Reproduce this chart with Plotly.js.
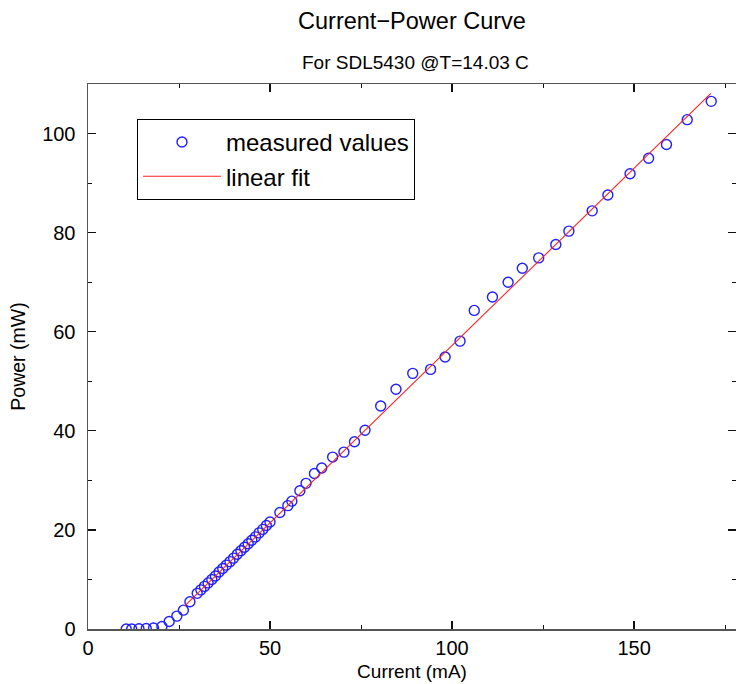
<!DOCTYPE html>
<html>
<head>
<meta charset="utf-8">
<script src="https://cdn.plot.ly/plotly-3.0.1.min.js"></script>
<style>html,body{margin:0;padding:0;background:#fff;}#chart{width:736px;height:684px;}</style>
</head>
<body>
<div id="chart"></div>
<script>
// Measured values (current in mA, power in mW)
const currentMA = [10.5, 12, 14, 16, 18, 20.3, 22.3, 24.4, 26.2, 28,
  30, 31, 32, 33, 34, 35, 36, 37, 38, 39, 40, 41, 42, 43, 44, 45, 46, 47, 48, 49, 50,
  52.7, 54.9, 56.0, 58.2, 59.9, 62.2, 64.2, 67.2, 70.3, 73.2, 76.1, 80.4, 84.6, 89.2,
  94.1, 98.1, 102.2, 106.1, 111.1, 115.4, 119.3, 123.8, 128.5, 132.1, 138.5, 142.8,
  148.9, 154.0, 158.9, 164.6, 171.2];
const powerMW = [0.0, 0.0, 0.05, 0.1, 0.2, 0.5, 1.5, 2.6, 3.8, 5.5,
  7.2, 7.9, 8.6, 9.3, 10.0, 10.7, 11.5, 12.2, 12.9, 13.6, 14.3, 15.1, 15.8, 16.5, 17.2, 17.9, 18.6, 19.4, 20.1, 20.9, 21.6,
  23.5, 24.9, 25.8, 27.9, 29.4, 31.4, 32.5, 34.7, 35.7, 37.8, 40.1, 45.0, 48.4, 51.6,
  52.4, 54.9, 58.1, 64.3, 67.0, 70.0, 72.8, 74.9, 77.6, 80.3, 84.4, 87.6,
  91.9, 95.0, 97.8, 102.8, 106.5];
// Linear fit end points
const fitCurrent = [26.5, 171.1];
const fitPower = [4.6, 108.1];

const FONT = 'Liberation Sans, Arial, Helvetica, sans-serif';

const traces = [
  {x: currentMA, y: powerMW, type: 'scatter', mode: 'markers', name: 'measured values',
   marker: {symbol: 'circle-open', size: 10, color: '#1f1fff', line: {width: 1.4, color: '#1f1fff'}}},
  {x: fitCurrent, y: fitPower, type: 'scatter', mode: 'lines', name: 'linear fit',
   line: {color: '#ff2020', width: 1.1}}
];

const axisCommon = {
  showgrid: false, zeroline: false, showline: true, linecolor: '#555', linewidth: 1.5,
  mirror: 'ticks', ticks: 'inside', ticklen: 8, tickwidth: 1.2, tickcolor: '#111',
  tickfont: {family: FONT, size: 20, color: '#000'},
  minor: {ticks: 'inside', ticklen: 4, tickcolor: '#111', tickwidth: 1, showgrid: false}
};

const layout = {
  width: 736, height: 684,
  margin: {l: 88, r: 0, t: 84, b: 55},
  paper_bgcolor: '#fff', plot_bgcolor: '#fff',
  font: {family: FONT, color: '#000'},
  title: {text: 'Current\u2212Power Curve', font: {family: FONT, size: 23.5, color: '#000'},
          x: 0.5, xref: 'paper', xanchor: 'center', y: 0.97, yref: 'container', yanchor: 'middle'},
  xaxis: Object.assign({}, axisCommon, {
    range: [0, 178], dtick: 50, tick0: 0, minor: Object.assign({}, axisCommon.minor, {dtick: 25}),
    title: {text: 'Current (mA)', font: {family: FONT, size: 19, color: '#000'}, standoff: 7}
  }),
  yaxis: Object.assign({}, axisCommon, {
    range: [0, 110], dtick: 20, tick0: 0, minor: Object.assign({}, axisCommon.minor, {dtick: 10}),
    ticklabelstandoff: 7,
    title: {text: 'Power (mW)', font: {family: FONT, size: 19.5, color: '#000'}, standoff: 11}
  }),
  showlegend: true,
  legend: {x: 0.0756, y: 0.936, xanchor: 'left', yanchor: 'top',
           bgcolor: '#fff', bordercolor: '#000', borderwidth: 1,
           font: {family: FONT, size: 24, color: '#000'}, itemwidth: 78, tracegroupgap: 0},
  annotations: [{text: 'For SDL5430 @T=14.03 C', xref: 'paper', yref: 'paper', x: 0.506, y: 1.0,
                 yanchor: 'middle', yshift: 22, showarrow: false,
                 font: {family: FONT, size: 19, color: '#000'}}]
};

Plotly.newPlot('chart', traces, layout, {displayModeBar: false, staticPlot: true});
</script>
</body>
</html>
